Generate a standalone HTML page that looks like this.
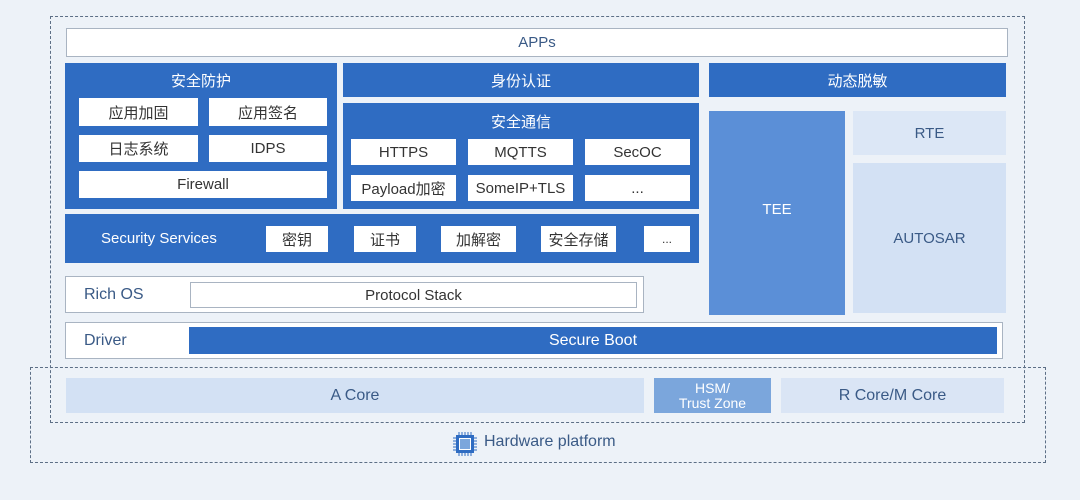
<!DOCTYPE html>
<html><head><meta charset="utf-8"><style>
body{margin:0;width:1080px;height:500px;background:#edf2f8;position:relative;overflow:hidden;font-family:"Liberation Sans","Noto Sans CJK SC",sans-serif;}
.b{position:absolute;box-sizing:border-box;display:flex;align-items:center;justify-content:center;text-align:center;}
.blue{background:#2f6cc2;color:#fff;}
.w{background:#fff;color:#333;font-size:15px;}
.d{position:absolute;box-sizing:border-box;border:1.5px dashed #5d6f86;}
.t{position:absolute;color:#fff;font-size:15px;}
</style></head><body>
<div class="d" style="left:50px;top:16px;width:975px;height:407px;"></div>
<div class="d" style="left:30px;top:367px;width:1016px;height:96px;"></div>

<div class="b w" style="left:66px;top:28px;width:942px;height:29px;border:1.5px solid #a9b4c2;color:#3a5a86;">APPs</div>

<div class="b blue" style="left:65px;top:63px;width:272px;height:146px;align-items:flex-start;padding-top:7px;font-size:15px;">安全防护</div>
<div class="b w" style="left:79px;top:98px;width:119px;height:28px;">应用加固</div>
<div class="b w" style="left:209px;top:98px;width:118px;height:28px;">应用签名</div>
<div class="b w" style="left:79px;top:135px;width:119px;height:27px;">日志系统</div>
<div class="b w" style="left:209px;top:135px;width:118px;height:27px;">IDPS</div>
<div class="b w" style="left:79px;top:171px;width:248px;height:27px;">Firewall</div>

<div class="b blue" style="left:343px;top:63px;width:356px;height:34px;font-size:15px;">身份认证</div>
<div class="b blue" style="left:343px;top:103px;width:356px;height:106px;align-items:flex-start;padding-top:8px;font-size:15px;">安全通信</div>
<div class="b w" style="left:351px;top:139px;width:105px;height:26px;">HTTPS</div>
<div class="b w" style="left:468px;top:139px;width:105px;height:26px;">MQTTS</div>
<div class="b w" style="left:585px;top:139px;width:105px;height:26px;">SecOC</div>
<div class="b w" style="left:351px;top:175px;width:105px;height:26px;">Payload加密</div>
<div class="b w" style="left:468px;top:175px;width:105px;height:26px;">SomeIP+TLS</div>
<div class="b w" style="left:585px;top:175px;width:105px;height:26px;">...</div>

<div class="b blue" style="left:65px;top:214px;width:634px;height:49px;justify-content:flex-start;padding-left:36px;font-size:15px;">Security Services</div>
<div class="b w" style="left:266px;top:226px;width:62px;height:26px;">密钥</div>
<div class="b w" style="left:354px;top:226px;width:62px;height:26px;">证书</div>
<div class="b w" style="left:441px;top:226px;width:75px;height:26px;">加解密</div>
<div class="b w" style="left:541px;top:226px;width:75px;height:26px;">安全存储</div>
<div class="b w" style="left:644px;top:226px;width:46px;height:26px;font-size:12px;">...</div>

<div class="b blue" style="left:709px;top:63px;width:297px;height:34px;font-size:15px;">动态脱敏</div>
<div class="b" style="left:709px;top:111px;width:136px;height:204px;background:#5b8fd7;color:#fff;font-size:15px;padding-bottom:8px;">TEE</div>
<div class="b" style="left:853px;top:111px;width:153px;height:44px;background:#dce7f6;color:#3a5a86;font-size:15px;">RTE</div>
<div class="b" style="left:853px;top:163px;width:153px;height:150px;background:#d3e1f4;color:#3a5a86;font-size:15px;">AUTOSAR</div>

<div class="b" style="left:65px;top:276px;width:579px;height:37px;background:#fff;border:1.5px solid #a9b4c2;justify-content:flex-start;padding-left:18px;color:#3a5a86;font-size:16px;">Rich OS</div>
<div class="b w" style="left:190px;top:282px;width:447px;height:26px;border:1.5px solid #a9b4c2;">Protocol Stack</div>

<div class="b" style="left:65px;top:322px;width:938px;height:37px;background:#fff;border:1.5px solid #a9b4c2;justify-content:flex-start;padding-left:18px;color:#3a5a86;font-size:16px;">Driver</div>
<div class="b blue" style="left:189px;top:327px;width:808px;height:27px;font-size:16px;">Secure Boot</div>

<div class="b" style="left:66px;top:378px;width:578px;height:35px;background:#d3e1f4;color:#3a5a86;font-size:16px;">A Core</div>
<div class="b" style="left:654px;top:378px;width:117px;height:35px;background:#7ba6dc;color:#fff;font-size:14px;line-height:15px;">HSM/<br>Trust Zone</div>
<div class="b" style="left:781px;top:378px;width:223px;height:35px;background:#dae5f5;color:#3a5a86;font-size:16px;">R Core/M Core</div>

<svg style="position:absolute;left:453px;top:432px" width="24" height="24" viewBox="0 0 24 24">
<rect x="3" y="3" width="18" height="18" fill="#2f6cc2"/>
<rect x="6.5" y="6.5" width="11" height="11" fill="#7ba6dc" stroke="#fff" stroke-width="1"/>
<g stroke="#2f6cc2" stroke-width="1"><path d="M6 0v3M9 0v3M12 0v3M15 0v3M18 0v3M6 21v3M9 21v3M12 21v3M15 21v3M18 21v3M0 6h3M0 9h3M0 12h3M0 15h3M0 18h3M21 6h3M21 9h3M21 12h3M21 15h3M21 18h3"/></g>
</svg>
<div style="position:absolute;left:484px;top:433px;font-size:16px;color:#3a5a86;">Hardware platform</div>
</body></html>
